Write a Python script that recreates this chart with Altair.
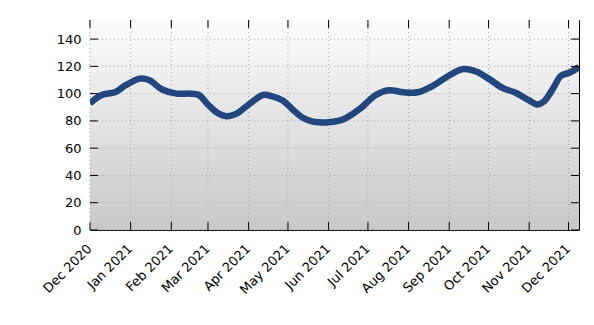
import altair as alt
import pandas as pd

dates = ["2020-12-01", "2020-12-10", "2020-12-20", "2020-12-28", "2021-01-08", "2021-01-15",
         "2021-01-25", "2021-02-05", "2021-02-15", "2021-02-22", "2021-03-01", "2021-03-08",
         "2021-03-15", "2021-03-22", "2021-04-01", "2021-04-12", "2021-04-19", "2021-04-27",
         "2021-05-05", "2021-05-12", "2021-05-20", "2021-06-01", "2021-06-12", "2021-06-25",
         "2021-07-07", "2021-07-17", "2021-07-28", "2021-08-08", "2021-08-20", "2021-09-02",
         "2021-09-12", "2021-09-22", "2021-10-01", "2021-10-12", "2021-10-22", "2021-11-01",
         "2021-11-07", "2021-11-12", "2021-11-20", "2021-11-25", "2021-12-02", "2021-12-09"]
values = [93, 99, 101, 106, 111, 110,
          103, 100, 100, 99, 92, 86,
          83.5, 85, 92, 99, 98, 95,
          88, 82.5, 79.5, 79, 81, 89,
          99, 102.5, 101, 101, 106, 114,
          118, 116, 111, 104, 100.5, 95,
          92, 94, 105, 113, 115.5, 119.5]

y_ticks = [0, 20, 40, 60, 80, 100, 120, 140]
month_ticks = ["2020-12-01", "2021-01-01", "2021-02-01", "2021-03-01", "2021-04-01",
               "2021-05-01", "2021-06-01", "2021-07-01", "2021-08-01", "2021-09-01",
               "2021-10-01", "2021-11-01", "2021-12-01"]

W, H = 489, 210
TL = 8
FONT = "DejaVu Sans"

df = pd.DataFrame({"date": dates, "value": values})
mdf = pd.DataFrame({"date": month_ticks})
ydf = pd.DataFrame({"value": y_ticks})

xscale = alt.Scale(type="utc", nice=False,
                   domain=[alt.DateTime(year=2020, month=12, date=1, utc=True),
                           alt.DateTime(year=2021, month=12, date=9, utc=True)])
yscale = alt.Scale(domain=[0, 154], nice=False, zero=False)

xaxis = alt.Axis(values=[alt.DateTime(year=int(d[:4]), month=int(d[5:7]), date=1, utc=True) for d in month_ticks],
                 labelExpr="utcFormat(datum.value, '%b %Y')", labelAngle=-45, labelAlign="right",
                 labelBaseline="top", labelPadding=12, labelOffset=-5, ticks=False, domain=False,
                 grid=False, labelFont=FONT, labelFontSize=13, labelColor="black", title=None,
                 labelOverlap=False, labelBound=False)
yaxis = alt.Axis(values=y_ticks, ticks=False, domain=False, grid=False, labelPadding=9,
                 labelFont=FONT, labelFontSize=13, labelColor="black", title=None)

xenc = alt.X("date:T", scale=xscale, axis=xaxis)
yenc = alt.Y("value:Q", scale=yscale, axis=yaxis)

bg = alt.Chart(pd.DataFrame({"a": [0]})).mark_rect(
    color=alt.Gradient(gradient="linear", x1=0, x2=0, y1=0, y2=1,
                       stops=[alt.GradientStop(offset=0, color="#fcfcfc"),
                              alt.GradientStop(offset=1, color="#c8c8c8")])
).encode(x=alt.value(0), x2=alt.value(W), y=alt.value(0), y2=alt.value(H))

grid_style = dict(color="#a8a8a8", strokeWidth=1, strokeDash=[1, 3])
xgrid = alt.Chart(mdf).mark_rule(**grid_style).encode(x=xenc, y=alt.value(0), y2=alt.value(H))
ygrid = alt.Chart(ydf).mark_rule(**grid_style).encode(y=yenc, x=alt.value(0), x2=alt.value(W))

line = alt.Chart(df).mark_line(interpolate="catmull-rom", strokeWidth=6.5, color="#22467e",
                               clip=True).encode(x=xenc, y=yenc)

tick_style = dict(color="black", strokeWidth=1)
yt_left = alt.Chart(ydf).mark_rule(**tick_style).encode(y=yenc, x=alt.value(0), x2=alt.value(TL))
yt_right = alt.Chart(ydf).mark_rule(**tick_style).encode(y=yenc, x=alt.value(W - TL), x2=alt.value(W))
xt_bot = alt.Chart(mdf).mark_rule(**tick_style).encode(x=xenc, y=alt.value(H - TL), y2=alt.value(H))
xt_top = alt.Chart(mdf).mark_rule(**tick_style).encode(x=xenc, y=alt.value(0), y2=alt.value(TL))

chart = alt.layer(bg, xgrid, ygrid, line, yt_left, yt_right, xt_bot, xt_top).properties(
    width=W, height=H,
    autosize=alt.AutoSizeParams(type="none"),
    padding={"left": 90, "top": 20, "right": 15, "bottom": 95},
    background="white",
).configure_view(stroke="black", strokeWidth=1)

chart.save("out.html", embed_options={"renderer": "svg", "actions": False})
